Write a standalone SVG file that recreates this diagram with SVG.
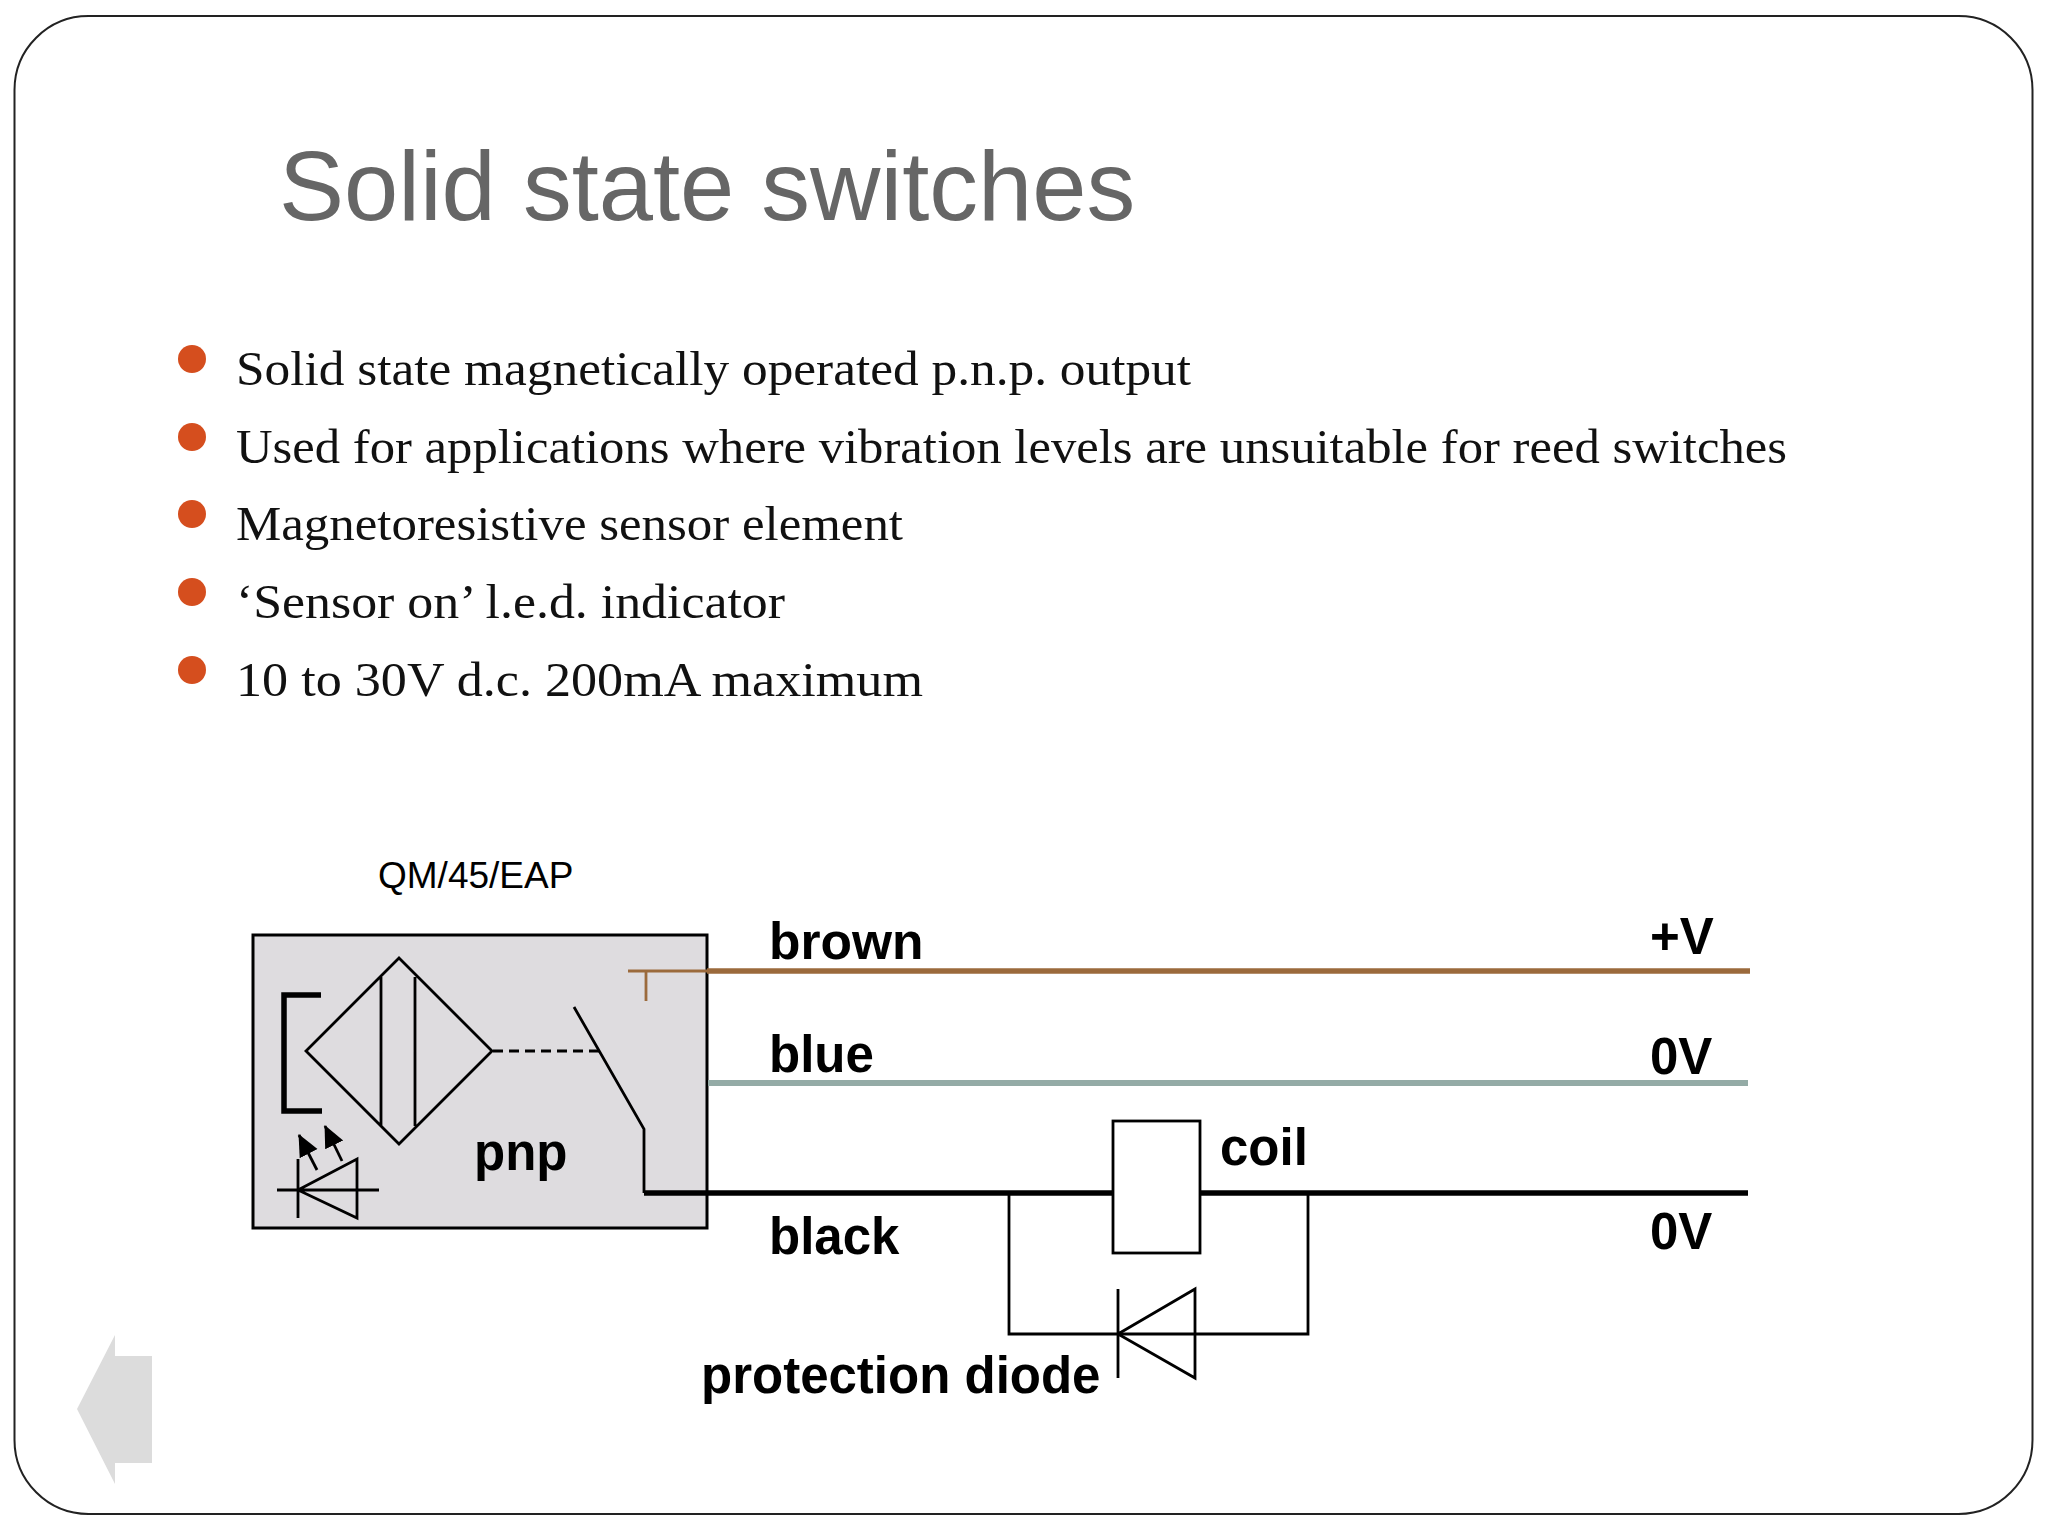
<svg xmlns="http://www.w3.org/2000/svg" width="2048" height="1536" viewBox="0 0 2048 1536">
<style>
.b{font-family:"Liberation Serif",serif;font-size:48px;fill:#111}
.l{font-family:"Liberation Sans",Arial,sans-serif;font-size:51px;font-weight:bold;fill:#000}
.k{fill:none;stroke:#000;stroke-width:2.800}
.d{fill:#d54e1e}
</style>
<defs><marker id="ah" markerUnits="userSpaceOnUse" markerWidth="24" markerHeight="22" refX="21" refY="10" orient="auto"><path d="M0 0L22 10L0 20Z" fill="#000"/></marker></defs>
<rect width="2048" height="1536" fill="#fff"/>
<rect id="frame" x="14.500" y="16" width="2018" height="1498" rx="74" fill="#fff" stroke="#222" stroke-width="2"/>
<text id="title" x="279" y="220" font-family="Liberation Sans,Arial,sans-serif" font-size="97.500" fill="#666">Solid state switches</text>
<g id="bullets">
<circle class="d" cx="192" cy="359" r="14"/><text class="b" x="236" y="385" textLength="955" lengthAdjust="spacingAndGlyphs">Solid state magnetically operated p.n.p. output</text>
<circle class="d" cx="192" cy="437" r="14"/><text class="b" x="236" y="463" textLength="1551" lengthAdjust="spacingAndGlyphs">Used for applications where vibration levels are unsuitable for reed switches</text>
<circle class="d" cx="192" cy="514" r="14"/><text class="b" x="236" y="540" textLength="667" lengthAdjust="spacingAndGlyphs">Magnetoresistive sensor element</text>
<circle class="d" cx="192" cy="592" r="14"/><text class="b" x="236" y="618" textLength="549" lengthAdjust="spacingAndGlyphs">‘Sensor on’ l.e.d. indicator</text>
<circle class="d" cx="192" cy="670" r="14"/><text class="b" x="236" y="696" textLength="687" lengthAdjust="spacingAndGlyphs">10 to 30V d.c. 200mA maximum</text>
</g>
<g id="sensor">
<rect x="253" y="935" width="454" height="293" fill="#dedcdf" stroke="#000" stroke-width="3"/>
<text x="378" y="888" font-family="Liberation Sans,Arial,sans-serif" font-size="37" fill="#000">QM/45/EAP</text>
<path class="k" d="M306 1051L399 958L492 1051L399 1144ZM381 977V1126M415 977V1126"/>
<path d="M321 995H284V1111H322" fill="none" stroke="#000" stroke-width="5.500"/>
<path d="M493 1051H600" class="k" stroke-dasharray="10 6"/>
<path class="k" d="M574 1007L644 1129V1193"/>
<path class="k" d="M277 1190H379M298 1159V1218M298 1190L357 1159V1218Z"/>
<path class="k" marker-end="url(#ah)" d="M317 1170L299 1135"/>
<path class="k" marker-end="url(#ah)" d="M342 1161L325 1126"/>
<text class="l" x="474" y="1170">pnp</text>
</g>
<g id="connectors" fill="none">
<path d="M707 971H1750" stroke="#9b6a3c" stroke-width="5.500"/>
<path d="M628 971H707M646 971V1001" stroke="#9b6a3c" stroke-width="2.800"/>
<path d="M708 1083H1748" stroke="#94aba6" stroke-width="6"/>
<path d="M644 1193H1748" stroke="#000" stroke-width="5.500"/>
<path class="k" d="M1009 1193V1334H1308V1193"/>
</g>
<g id="coil"><rect class="k" x="1113" y="1121" width="87" height="132" style="fill:#fff"/></g>
<g id="diode"><path class="k" d="M1118 1289V1378M1118 1334L1195 1289V1378Z"/></g>
<g id="labels">
<text class="l" x="769" y="959" style="font-size:51.500px">brown</text>
<text class="l" x="769" y="1072">blue</text>
<text class="l" x="769" y="1254">black</text>
<text class="l" x="1220" y="1165">coil</text>
<text class="l" x="701" y="1393">protection diode</text>
<text class="l" x="1650" y="954">+V</text>
<text class="l" x="1650" y="1074">0V</text>
<text class="l" x="1650" y="1249">0V</text>
</g>
<polygon id="back" points="77,1409 115,1335 115,1356 152,1356 152,1463 115,1463 115,1484" fill="#dcdcdc"/>
</svg>
